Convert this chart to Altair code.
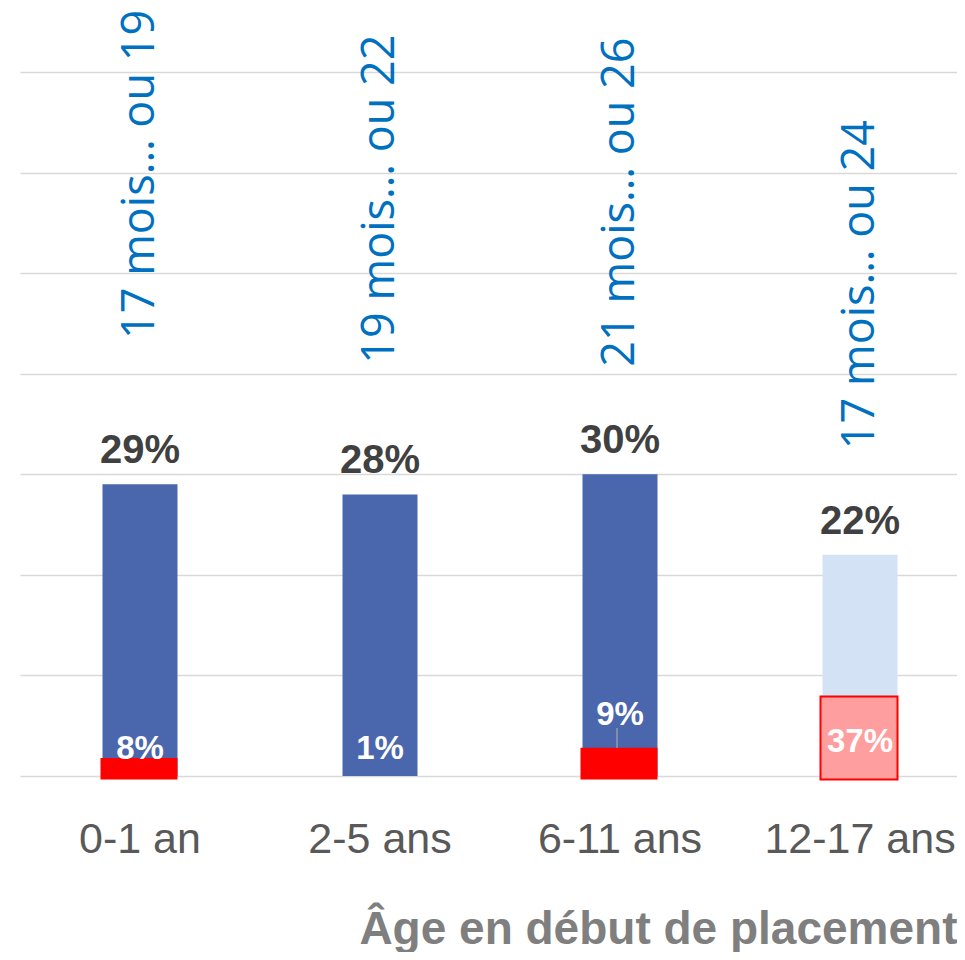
import altair as alt
import pandas as pd

categories = ["0-1 an", "2-5 ans", "6-11 ans", "12-17 ans"]
share = [29, 28, 30, 22]
share_label = ["29%", "28%", "30%", "22%"]
red_height = [1.8, 0.0, 2.8, 7.9]
red_label = ["8%", "1%", "9%", "37%"]
red_label_pos = [1.69, 1.69, 5.07, 2.39]
duree = ["17 mois… ou 19", "19 mois… ou 22", "21 mois… ou 26", "17 mois… ou 24"]
duree_pos = [43.65, 41.2, 40.9, 32.7]
leader_top = [None, None, 4.77, None]
leader_bottom = [None, None, 2.78, None]

RED_BASE = -0.35

df = pd.DataFrame({
    "cat": categories,
    "share": share,
    "share_label": share_label,
    "red": red_height,
    "red_label": red_label,
    "red_label_pos": red_label_pos,
    "duree": duree,
    "duree_pos": duree_pos,
    "lt": leader_top,
    "lb": leader_bottom,
})
df["base"] = RED_BASE

is_last = alt.datum.cat == "12-17 ans"

x = alt.X(
    "cat:N",
    sort=categories,
    scale=alt.Scale(paddingInner=0.6875, paddingOuter=0.2958, align=0.581),
    axis=alt.Axis(
        title="Âge en début de placement",
        labelAngle=0,
        domain=False,
        ticks=False,
        tickSize=0,
        labelLimit=0,
        labelFont="Liberation Sans",
        labelFontSize=43,
        labelColor="#595959",
        labelBaseline="alphabetic",
        labelPadding=76,
        titleFont="Liberation Sans",
        titleFontSize=46,
        titleFontWeight="bold",
        titleColor="#7F7F7F",
        titleAlign="right",
        titleBaseline="alphabetic",
        titleLimit=0,
        titleX=937,
        titleY=167,
    ),
)
yscale = alt.Scale(domain=[0, 70], nice=False, zero=True)
yaxis = alt.Axis(
    values=list(range(0, 71, 10)),
    grid=True,
    gridColor="#D9D9D9",
    gridWidth=1.5,
    labels=False,
    ticks=False,
    domain=False,
    title=None,
)

base = alt.Chart(df)

bars = base.mark_bar().encode(
    x=x,
    y=alt.Y("share:Q", scale=yscale, axis=yaxis),
    color=alt.condition(is_last, alt.value("#D3E2F4"), alt.value("#4A66AC")),
)

red_bars = base.transform_filter(alt.datum.red > 0).mark_bar(width=77, xOffset=-1).encode(
    x=x,
    y=alt.Y("red:Q", scale=yscale),
    y2="base:Q",
    fill=alt.condition(is_last, alt.value("#FF9E9E"), alt.value("#FF0000")),
    stroke=alt.value("#FF0000"),
    strokeWidth=alt.condition(is_last, alt.value(2), alt.value(0)),
)

share_text = base.mark_text(
    font="Liberation Sans",
    fontSize=40,
    fontWeight="bold",
    color="#404040",
    baseline="alphabetic",
    align="center",
    dy=-21,
).encode(x=x, y=alt.Y("share:Q", scale=yscale), text="share_label:N")

red_text = base.mark_text(
    font="Liberation Sans",
    fontSize=33,
    fontWeight="bold",
    color="#FFFFFF",
    baseline="alphabetic",
    align="center",
).encode(x=x, y=alt.Y("red_label_pos:Q", scale=yscale), text="red_label:N")

leader = base.transform_filter("isValid(datum.lt)").mark_rule(
    color="#A6A6A6", strokeWidth=1.2, xOffset=-3
).encode(x=x, y=alt.Y("lt:Q", scale=yscale), y2="lb:Q")

duree_text = base.mark_text(
    font="Open Sans",
    fontSize=45,
    color="#0070C0",
    angle=270,
    align="left",
    baseline="middle",
    dx=-2,
).encode(x=x, y=alt.Y("duree_pos:Q", scale=yscale), text="duree:N")

chart = alt.layer(bars, red_bars, leader, share_text, red_text, duree_text).properties(
    width=937,
    height=704,
    autosize=alt.AutoSizeParams(type="none"),
    padding={"left": 12, "top": 64, "right": 0, "bottom": 176},
).configure_view(stroke=None)

chart.save("out.html", embed_options={"renderer": "svg", "actions": False})
